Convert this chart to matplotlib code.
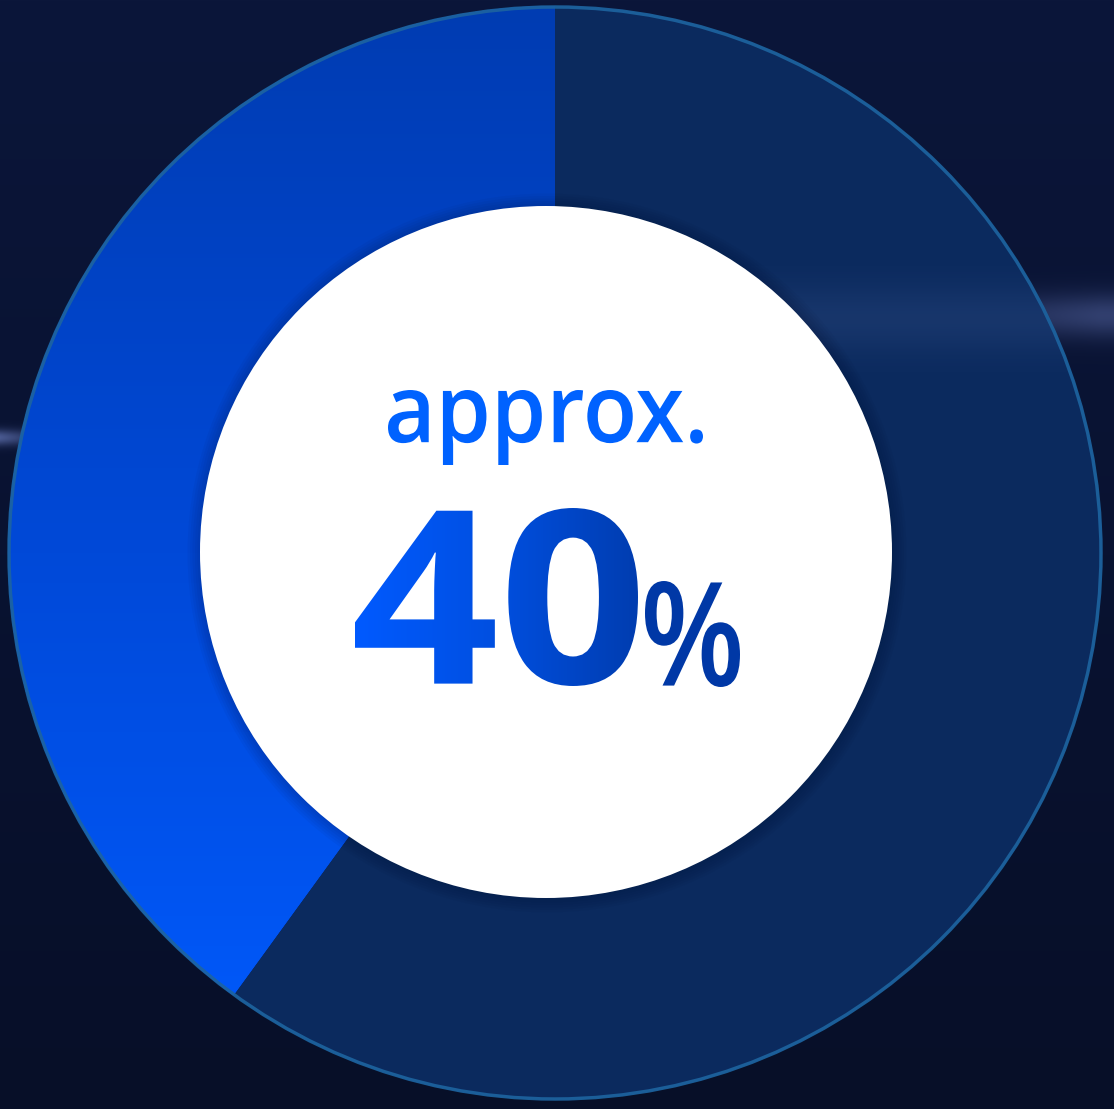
import numpy as np
import matplotlib
matplotlib.use("Agg")
import matplotlib.pyplot as plt
from matplotlib.patches import Circle, PathPatch
from matplotlib.textpath import TextPath
from matplotlib.font_manager import FontProperties, findfont
from matplotlib.colors import LinearSegmentedColormap
from matplotlib.transforms import Affine2D

W, H = 1114, 1109

# ── data ──────────────────────────────────────────────────────────────
shares         = [40, 60]
segment_colors = ["#0050F0", "#0B2A5E"]
prefix_label   = "approx."
unit_label     = "%"

# ── pick a family that really has a bold face ─────────────────────────
def bold_font():
    for fam in ["Noto Sans", "Open Sans", "Lato", "Roboto", "Inter", "DejaVu Sans"]:
        try:
            f = findfont(FontProperties(family=fam, weight="bold"), fallback_to_default=False)
        except Exception:
            continue
        if "bold" in f.lower():
            return FontProperties(fname=f)
    return FontProperties(family="DejaVu Sans", weight="bold")

def medium_font():
    for fam in ["Noto Sans", "Open Sans", "Lato", "Roboto"]:
        for wt in ["medium", "semibold"]:
            try:
                f = findfont(FontProperties(family=fam, weight=wt), fallback_to_default=False)
            except Exception:
                continue
            low = f.lower()
            if "medium" in low or "semibold" in low:
                return FontProperties(fname=f)
    return FontProperties(family="Noto Sans")

# ── canvas (1 data unit = 1 pixel) ────────────────────────────────────
fig = plt.figure(figsize=(W / 100, H / 100), dpi=100)
ax = fig.add_axes([0, 0, 1, 1])

# background: dark navy with a couple of soft light streaks
yy, xx = np.mgrid[0:H, 0:W].astype(float)
top = np.array([11, 22, 58]) / 255
bot = np.array([7, 15, 40]) / 255
t = (yy / H)[..., None]
bg = top * (1 - t) + bot * t
streak = (np.exp(-((yy - 315) / 22) ** 2) * np.clip((xx - 850) / 250, 0, 1) * 0.28
          + np.exp(-((yy - 437) / 8) ** 2) * np.clip((60 - xx) / 60, 0, 1) * 0.45)
bg = bg + streak[..., None] * np.array([0.55, 0.6, 0.8])
ax.imshow(np.clip(bg, 0, 1), extent=(0, W, 0, H), origin="upper", zorder=0)

# ── donut ─────────────────────────────────────────────────────────────
cx, cy, R = 555, H - 553, 547
wedges, _ = ax.pie(shares, colors=segment_colors, startangle=90,
                   counterclock=True, center=(cx, cy), radius=R,
                   frame=True, wedgeprops=dict(linewidth=0))
for w in wedges:
    w.set_zorder(2)

# vertical gradient on the highlighted segment
blue_cmap = LinearSegmentedColormap.from_list("seg", ["#003CB2", "#0049D8", "#005BFF"])
grad = np.linspace(0, 1, 256)[:, None]
im = ax.imshow(grad, cmap=blue_cmap, extent=(cx - R, cx + R, cy - R, cy + R),
               origin="upper", aspect="auto", zorder=3)
im.set_clip_path(wedges[0])

# subtle lighter band across the dark segment
band = np.exp(-((np.linspace(0, H, 400) - 318) / 35) ** 2)[:, None] * 0.12
band_img = np.zeros((400, 1, 4))
band_img[..., 0:3] = np.array([0.45, 0.55, 0.8])
band_img[..., 3] = band
im2 = ax.imshow(band_img, extent=(0, W, 0, H), origin="upper", aspect="auto", zorder=3)
im2.set_clip_path(wedges[1])

# outer rim
ax.add_patch(Circle((cx, cy), R - 1, fill=False, ec="#1D64A0", lw=2.5, alpha=0.9, zorder=4))

# inner white disc with a soft shadow
icx, icy, r_in = 546, H - 552, 346
for k in range(6):
    ax.add_patch(Circle((icx + 1, icy - 1), r_in + 1 + k * 2.5, fc="#000820",
                        ec="none", alpha=0.035, zorder=4))
ax.add_patch(Circle((icx, icy), r_in, fc="white", ec="none", zorder=5))

# ── centre labels ─────────────────────────────────────────────────────
def fitted_path(text, prop, x0, x1, y_top, y_bot):
    """Text outline scaled into a pixel box (y from the top of the image)."""
    tp = TextPath((0, 0), text, size=200, prop=prop)
    e = tp.get_extents()
    return tp.transformed(Affine2D().translate(-e.x0, -e.y0)
                          .scale((x1 - x0) / e.width, (y_bot - y_top) / e.height)
                          .translate(x0, H - y_bot))

pre = fitted_path(prefix_label, medium_font(), 388, 703, 390, 465)
ax.add_patch(PathPatch(pre, fc="#0062FF", ec="none", zorder=6))

value_text = f"{shares[0]}"
num = fitted_path(value_text, bold_font(), 355, 638, 508, 686)
num_patch = PathPatch(num, fc="none", ec="none", zorder=6)
ax.add_patch(num_patch)
b = num.get_extents()
hgrad = np.linspace(0, 1, 256)[None, :]
num_cmap = LinearSegmentedColormap.from_list("num", ["#005AFF", "#004FE0", "#003DB0"])
im3 = ax.imshow(hgrad, cmap=num_cmap, extent=(b.x0, b.x1, b.y0, b.y1),
                aspect="auto", zorder=6)
im3.set_clip_path(num_patch)

pct = fitted_path(unit_label, medium_font(), 645, 740, 581, 687)
ax.add_patch(PathPatch(pct, fc="#0038A6", ec="none", zorder=6))

ax.set_xlim(0, W)
ax.set_ylim(0, H)
ax.set_aspect("auto")
ax.axis("off")

fig.savefig("out.png", dpi=100, facecolor="#0A1535")
